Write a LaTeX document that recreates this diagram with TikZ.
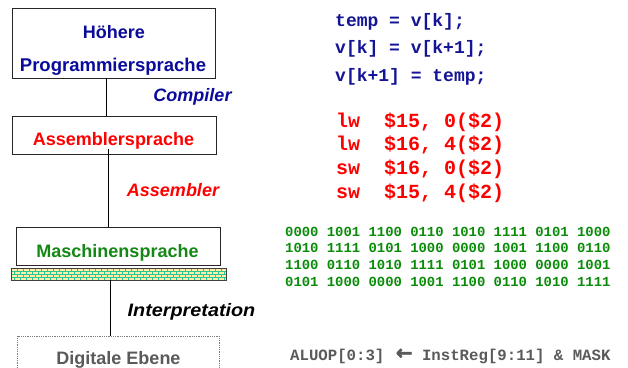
\documentclass[tikz,border=0pt]{standalone}
\usepackage{fontspec}
\setmainfont{Liberation Sans}
\newfontfamily\codefont{Liberation Mono}
\newfontfamily\symfont[FakeBold=2.5]{DejaVu Sans}
\definecolor{navy}{RGB}{10,10,155}
\definecolor{codeblue}{RGB}{20,20,150}
\definecolor{myred}{RGB}{255,0,0}
\definecolor{mygreen}{RGB}{20,135,20}
\definecolor{bingreen}{RGB}{10,140,10}
\definecolor{mygray}{RGB}{90,90,90}
\definecolor{brickfill}{RGB}{255,238,170}
\definecolor{mortar}{RGB}{40,200,150}
\tikzset{
  box/.style={draw=black!85, line width=0.8pt, fill=white, inner sep=0pt, outer sep=0pt},
  lbl/.style={font=\fontsize{18}{20}\selectfont\bfseries, anchor=base, inner sep=0pt},
  ilbl/.style={font=\fontsize{18}{20}\selectfont\bfseries\itshape, anchor=base, inner sep=0pt},
  conn/.style={draw=black, line width=0.8pt},
  bluecode/.style={font=\fontsize{18}{20}\selectfont\codefont\bfseries, text=codeblue, anchor=base west, inner sep=0pt},
  redcode/.style={font=\fontsize{20}{22}\selectfont\codefont\bfseries, text=myred, anchor=base west, inner sep=0pt},
  bincode/.style={font=\fontsize{13.9}{15}\selectfont\codefont\bfseries, text=bingreen, anchor=base west, inner sep=0pt},
  graycode/.style={font=\fontsize{15.7}{17}\selectfont\codefont\bfseries, text=mygray, anchor=base west, inner sep=0pt}
}
\begin{document}
\begin{tikzpicture}[x=1pt,y=-1pt]
\useasboundingbox (0,0) rectangle (628,367);
\clip (0,0) rectangle (628,367);
\fill[white] (0,0) rectangle (628,367);

% boxes
\node[box, minimum width=203pt, minimum height=70pt] (hl) at (113.5,43) {};
\node[box, minimum width=204pt, minimum height=38pt] (asm) at (114,135) {};
\node[box, minimum width=204pt, minimum height=38pt] (ms) at (118,246) {};
\node[inner sep=0pt, outer sep=0pt, minimum width=215pt, minimum height=12pt] (bar) at (118.5,274) {};
\node[draw=mygray!80, densely dotted, line width=0.8pt, inner sep=0pt, outer sep=0pt, minimum width=202pt, minimum height=60pt] (dig) at (118,366) {};

% brick bar
\begin{scope}
\fill[brickfill] (bar.north west) rectangle (bar.south east);
\clip (bar.north west) rectangle (bar.south east);
\foreach \r in {0,1,2,3}{
  \draw[mortar, line width=0.7pt] (11,268+3*\r) -- (226,268+3*\r);
  \pgfmathsetmacro{\off}{mod(\r,2)*3}
  \foreach \i in {0,...,36}{
    \draw[mortar, line width=0.7pt] (11+\off+6*\i,268+3*\r) -- (11+\off+6*\i,271+3*\r);
  }
}
\end{scope}
\draw[black!75, line width=0.9pt] (bar.north west) rectangle (bar.south east);

% connectors
\draw[conn] (hl.south -| 106,0) -- (asm.north -| 106,0);
\draw[conn] ([yshift=5pt]asm.south -| 108,0) -- (ms.north -| 108,0);
\draw[conn] (bar.south -| 110,0) -- (dig.north -| 110,0);

% box labels
\node[lbl, text=navy] (t1) at (113.8,38) {Höhere};
\node[lbl, text=navy, font=\fontsize{18.5}{20}\selectfont\bfseries] (t2) at (113,71) {Programmiersprache};
\node[lbl, text=myred] (t3) at (113.5,145.5) {Assemblersprache};
\node[lbl, text=mygreen] (t4) at (117.5,257) {Maschinensprache};
\node[lbl, text=mygray] (t5) at (118.5,364) {Digitale Ebene};

% connector labels
\node[ilbl, text=navy] (l1) at (192.5,101.5) {Compiler};
\node[ilbl, text=myred] (l2) at (173,196) {Assembler};
\node[ilbl, text=black] (l3) at (191.5,316.5) {\scalebox{1.1}[1]{Interpretation}};

% high level code
\node[bluecode] (c1) at (335,26) {temp = v[k];};
\node[bluecode] (c2) at (335,53.5) {v[k] = v[k+1];};
\node[bluecode] (c3) at (335,81) {v[k+1] = temp;};

% assembler code
\node[redcode] (a1) at (336,127) {lw\ \ \$15,\ 0(\$2)};
\node[redcode] (a2) at (336,150.5) {lw\ \ \$16,\ 4(\$2)};
\node[redcode] (a3) at (336,174) {sw\ \ \$16,\ 0(\$2)};
\node[redcode] (a4) at (336,198) {sw\ \ \$15,\ 4(\$2)};

% machine code
\node[bincode] (b1) at (285,236) {0000 1001 1100 0110 1010 1111 0101 1000};
\node[bincode] (b2) at (285,252.7) {1010 1111 0101 1000 0000 1001 1100 0110};
\node[bincode] (b3) at (285,269.3) {1100 0110 1010 1111 0101 1000 0000 1001};
\node[bincode] (b4) at (285,286) {0101 1000 0000 1001 1100 0110 1010 1111};

% register transfer
\node[graycode] (r1) at (290,360) {ALUOP[0:3]\ \makebox[18.8pt][r]{\fontsize{20}{20}\symfont\raisebox{0.5pt}{←}}\ InstReg[9:11]\ \&\ MASK};
\end{tikzpicture}
\end{document}
